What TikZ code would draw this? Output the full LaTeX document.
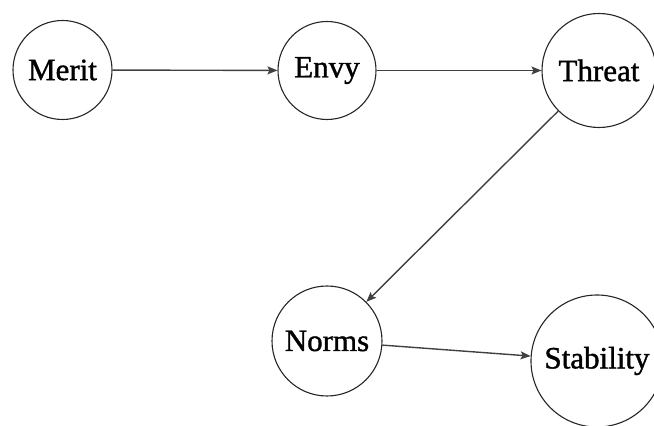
\documentclass[tikz,border=0pt]{standalone}
\usepackage{fontspec}
\setmainfont{Liberation Serif}[FakeBold=1.2]
\usetikzlibrary{arrows.meta}
\begin{document}
\begin{tikzpicture}[x=1pt,y=1pt,
  vnode/.style={circle,draw=black!85,line width=1.1pt,inner sep=0pt,font=\fontsize{31}{34}\selectfont},
  edge/.style={draw=black!75,line width=1.4pt,-{Stealth[length=10pt,width=8pt,inset=2pt]}}]
\useasboundingbox (0,0) rectangle (654,426);
\clip (0,0) rectangle (654,426);
\node[vnode,minimum size=99pt] (merit) at (62.5,356) {Merit};
\node[vnode,minimum size=98pt] (envy) at (327,355.5) {Envy};
\node[vnode,minimum size=114pt] (threat) at (599,355.5) {Threat};
\node[vnode,minimum size=110pt] (norms) at (327,85) {Norms};
\node[vnode,minimum size=132pt] (stab) at (597,65) {Stability};
\draw[edge] (merit) -- (envy);
\draw[edge] (envy) -- (threat);
\draw[edge] (threat) -- (norms);
\draw[edge] (norms) -- (stab);
\end{tikzpicture}
\end{document}
